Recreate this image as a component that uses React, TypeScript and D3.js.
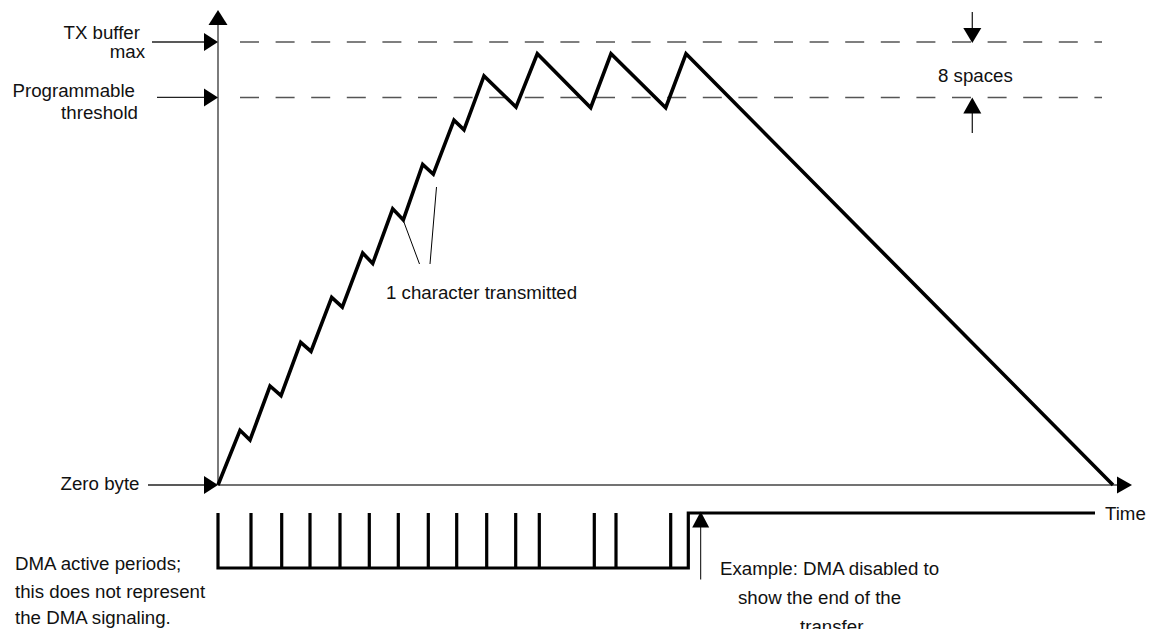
import React from "react";
import * as d3 from "d3";

// Buffer level curve (time units, bytes)
const levelTimes = [0, 22, 32, 52, 63, 82.7, 93, 113.7, 124.3, 144.7, 154.7, 174.7, 185.3, 204.7, 215.3, 236, 246, 266, 298, 319.3, 372.7, 393, 447.7, 468, 895];
const levelBytes = [0, 7.9, 6.5, 14.3, 12.9, 20.6, 19.3, 27.1, 25.7, 33.5, 32.0, 39.9, 38.3, 46.3, 44.9, 52.7, 51.3, 59.1, 54.6, 62.3, 54.5, 62.3, 54.5, 62.3, 0];

// DMA activity pulses (time units)
const dmaPulseTimes = [33, 63.7, 92, 122, 151.3, 180.3, 210.3, 238.7, 268.7, 297.7, 321.3, 376.3, 398, 452.7];
const dmaDisableTime = 470.3;
const dmaEndTime = 877;
const dmaMarkerTime = 482.7;

const bufferMax = 64;
const thresholdLevel = 56;
const zeroLevel = 0;

const W = 1149;
const H = 629;
const FONT = "'Liberation Sans', Arial, sans-serif";
const FS = 18.7;

export default function App() {
  const x = d3.scaleLinear().domain([0, 900]).range([218, 1118]);
  const y = d3.scaleLinear().domain([0, 64]).range([485, 42]);
  const dma = d3.scaleLinear().domain([0, 1]).range([568, 513]);

  const pts: [number, number][] = levelTimes.map((t, i) => [x(t), y(levelBytes[i])]);
  const lineGen = d3.line<[number, number]>().x((d) => d[0]).y((d) => d[1]);
  const levelPath = lineGen(pts) || "";

  // DMA path
  let dmaPath = `M${x(0)},${dma(1)} V${dma(0)}`;
  dmaPulseTimes.forEach((t) => {
    dmaPath += ` H${x(t)} V${dma(1)} V${dma(0)}`;
  });
  dmaPath += ` H${x(dmaDisableTime)} V${dma(1)} H${x(dmaEndTime)}`;

  const x0 = x(0);
  const yZero = y(zeroLevel);
  const yMax = y(bufferMax);
  const yThr = y(thresholdLevel);

  const rightArrow = (tipX: number, cy: number, len = 14, half = 9) =>
    `M${tipX},${cy} L${tipX - len},${cy - half} L${tipX - len},${cy + half} Z`;
  const upArrow = (cx: number, tipY: number, len = 15, half = 9) =>
    `M${cx},${tipY} L${cx - half},${tipY + len} L${cx + half},${tipY + len} Z`;
  const downArrow = (cx: number, tipY: number, len = 15, half = 9) =>
    `M${cx},${tipY} L${cx - half},${tipY - len} L${cx + half},${tipY - len} Z`;

  const textStyle = { fontFamily: FONT, fontSize: FS, fill: "#111" } as const;
  const axisColor = "#444";

  return (
    <svg width={W} height={H} style={{ position: "absolute", left: 0, top: 0, background: "#fff" }}>
      {/* dashed reference lines */}
      <line x1={240} x2={1102} y1={yMax} y2={yMax} stroke="#555" strokeWidth={1.5} strokeDasharray="19 16.6" />
      <line x1={240} x2={1102} y1={yThr} y2={yThr} stroke="#555" strokeWidth={1.5} strokeDasharray="19 16.6" />

      {/* y axis */}
      <line x1={x0} x2={x0} y1={yZero} y2={24} stroke={axisColor} strokeWidth={1.4} />
      <path d={upArrow(x0, 10, 15, 9.5)} fill="#000" />
      {/* x axis */}
      <line x1={x0} x2={1118} y1={yZero} y2={yZero} stroke={axisColor} strokeWidth={1.4} />
      <path d={rightArrow(1132, yZero, 15, 8.5)} fill="#000" />

      {/* left pointers */}
      <line x1={152} x2={205} y1={yMax} y2={yMax} stroke="#222" strokeWidth={1.4} />
      <path d={rightArrow(x0, yMax)} fill="#000" />
      <line x1={157} x2={205} y1={yThr} y2={yThr} stroke="#222" strokeWidth={1.4} />
      <path d={rightArrow(x0, yThr)} fill="#000" />
      <line x1={148} x2={205} y1={yZero} y2={yZero} stroke="#222" strokeWidth={1.4} />
      <path d={rightArrow(x0, yZero)} fill="#000" />

      {/* level curve */}
      <path d={levelPath} fill="none" stroke="#000" strokeWidth={3.6} strokeLinejoin="miter" />

      {/* 1 character transmitted leaders */}
      <line x1={403.5} y1={221} x2={419.5} y2={264} stroke="#000" strokeWidth={1} />
      <line x1={436.5} y1={187} x2={430} y2={264} stroke="#000" strokeWidth={1} />
      <text x={386} y={299} style={textStyle}>1 character transmitted</text>

      {/* 8 spaces */}
      <line x1={972.3} x2={972.3} y1={12} y2={30} stroke="#222" strokeWidth={1.3} />
      <path d={downArrow(972.3, yMax + 1, 15, 9)} fill="#000" />
      <line x1={972.3} x2={972.3} y1={112} y2={133} stroke="#222" strokeWidth={1.3} />
      <path d={upArrow(972.3, yThr, 16, 9)} fill="#000" />
      <text x={938} y={82} style={textStyle}>8 spaces</text>

      {/* labels left */}
      <text x={140} y={38.5} textAnchor="end" style={textStyle}>TX buffer</text>
      <text x={145} y={58} textAnchor="end" style={textStyle}>max</text>
      <text x={135} y={96.5} textAnchor="end" style={textStyle}>Programmable</text>
      <text x={138} y={118.5} textAnchor="end" style={textStyle}>threshold</text>
      <text x={139.5} y={490} textAnchor="end" style={textStyle}>Zero byte</text>

      {/* DMA signal */}
      <path d={dmaPath} fill="none" stroke="#000" strokeWidth={3.2} strokeLinejoin="miter" />
      <text x={1105} y={520} style={textStyle}>Time</text>

      {/* DMA disable marker */}
      <line x1={x(dmaMarkerTime)} x2={x(dmaMarkerTime)} y1={525} y2={579.5} stroke="#000" strokeWidth={1} />
      <path d={upArrow(x(dmaMarkerTime), 511.5, 16, 8.5)} fill="#000" />

      <text x={720} y={575} style={textStyle}>Example: DMA disabled to</text>
      <text x={738} y={604} style={textStyle}>show the end of the</text>
      <text x={800} y={633} style={textStyle}>transfer</text>

      <text x={15} y={569.5} style={textStyle}>DMA active periods;</text>
      <text x={15} y={598} style={textStyle}>this does not represent</text>
      <text x={15} y={624} style={textStyle}>the DMA signaling.</text>
    </svg>
  );
}
